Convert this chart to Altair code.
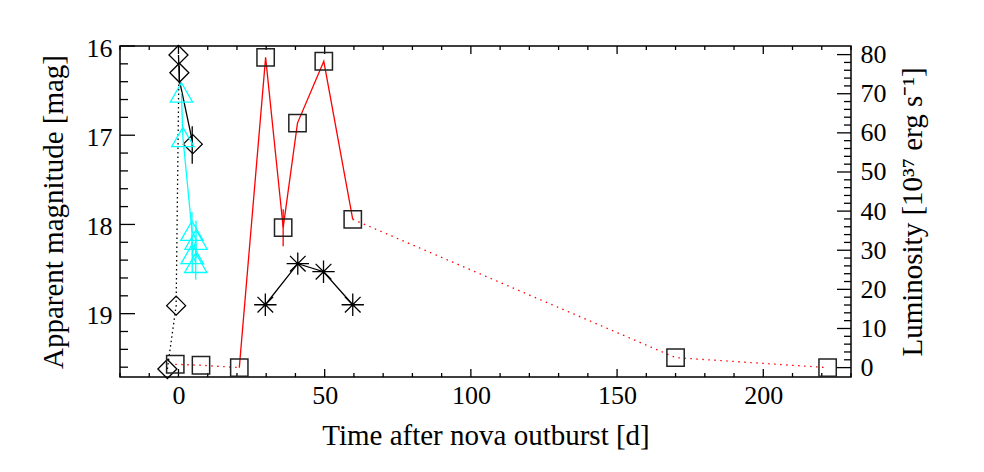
import altair as alt
import pandas as pd

# ---------------- data ----------------
# black diamonds: apparent magnitude
dia_day = [-3.8, -0.8, 0.0, 0.3, 4.9]
dia_mag = [19.62, 18.91, 16.10, 16.30, 17.10]
# black solid line through early diamonds
bl_day = [0.0, 0.3, 4.7]
bl_mag = [16.10, 16.38, 17.06]
# black dotted line
bd_day = [-3.8, -0.8, 0.1]
bd_mag = [19.62, 18.91, 16.41]
# black error bars
be_day = [0.3, 4.7]
be_lo = [16.22, 16.90]
be_hi = [16.42, 17.32]

# cyan triangles: apparent magnitude
tri_day = [1.0, 1.5, 4.6, 6.0, 4.7, 5.9]
tri_mag = [16.52, 17.02, 18.07, 18.17, 18.33, 18.43]
# cyan error bars
ce_day = [4.6, 6.0, 4.7, 5.9]
ce_lo = [17.86, 17.96, 18.12, 18.22]
ce_hi = [18.28, 18.38, 18.54, 18.62]

# black asterisks: apparent magnitude
ast_day = [29.7, 40.8, 49.6, 59.6]
ast_mag = [18.90, 18.44, 18.53, 18.90]

# squares: luminosity [1e37 erg/s]
sq_day = [-1.1, 7.7, 20.8, 29.8, 35.8, 40.7, 49.7, 59.6, 170.0, 222.0]
sq_lum = [0.85, 0.6, 0.0, 79.3, 35.8, 62.5, 78.3, 37.9, 2.55, 0.0]
solid_idx = [2, 3, 4, 5, 6, 7]
dotted_segs = [[0, 1, 2], [7, 8, 9]]
re_day = [35.8]
re_lo = [31.0]
re_hi = [40.5]

# axis ticks
x_major = [0, 50, 100, 150, 200]
x_minor = [v for v in range(-20, 231, 10) if v % 50 != 0]
mag_major = [16, 17, 18, 19]
mag_minor = [round(16 + 0.2 * i, 1) for i in range(1, 19) if i % 5 != 0]
lum_major = list(range(0, 81, 10))
lum_minor = [v for v in range(2, 81, 2) if v % 10 != 0]

# ---------------- layout / style ----------------
W, H = 731, 331
FONT = "Liberation Serif"
LFS = 26
TFS = 29

xs = alt.Scale(domain=[-20, 230], nice=False, zero=False)
ms = alt.Scale(domain=[16, 19.71], reverse=True, nice=False, zero=False)
ls = alt.Scale(domain=[-2.4, 82.2], nice=False, zero=False)

x_axis = alt.Axis(values=x_major, ticks=False, domain=False, grid=False,
                  labelFont=FONT, labelFontSize=LFS, labelColor="black", labelPadding=5,
                  titleFont=FONT, titleFontSize=TFS, titleFontWeight="normal",
                  titleColor="black", titlePadding=13, labelFlush=False)
m_axis = alt.Axis(values=mag_major, orient="left", ticks=False, domain=False, grid=False,
                  labelFont=FONT, labelFontSize=LFS, labelColor="black", labelPadding=8,
                  labelOffset=2,
                  titleFont=FONT, titleFontSize=TFS, titleFontWeight="normal",
                  titleColor="black", titlePadding=18, labelFlush=False, format="d")
l_axis = alt.Axis(values=lum_major, orient="right", ticks=False, domain=False, grid=False,
                  labelFont=FONT, labelFontSize=LFS, labelColor="black", labelPadding=9,
                  labelAlign="left",
                  titleFont=FONT, titleFontSize=TFS, titleFontWeight="normal",
                  titleColor="black", titlePadding=12, titleAngle=270,
                  titleBaseline="top", labelFlush=False, format="d")

XT = "Time after nova outburst [d]"
MT = "Apparent magnitude [mag]"
LT = "Luminosity [10³⁷ erg s⁻¹]"


def X(f):
    return alt.X(f, type="quantitative", scale=xs, axis=x_axis, title=XT)


def YM(f):
    return alt.Y(f, type="quantitative", scale=ms, axis=m_axis, title=MT)


def YL(f):
    return alt.Y(f, type="quantitative", scale=ls, axis=l_axis, title=LT)


dia = pd.DataFrame({"d": dia_day, "m": dia_mag})
bl = pd.DataFrame({"d": bl_day, "m": bl_mag})
bd = pd.DataFrame({"d": bd_day, "m": bd_mag})
be = pd.DataFrame({"d": be_day, "lo": be_lo, "hi": be_hi})
tri = pd.DataFrame({"d": tri_day, "m": tri_mag, "i": list(range(len(tri_day)))})
ce = pd.DataFrame({"d": ce_day, "lo": ce_lo, "hi": ce_hi})
ast = pd.DataFrame({"d": ast_day, "m": ast_mag})
sq = pd.DataFrame({"d": sq_day, "l": sq_lum})
rs = pd.DataFrame({"d": [sq_day[i] for i in solid_idx], "l": [sq_lum[i] for i in solid_idx]})
rd_rows = []
for s, seg in enumerate(dotted_segs):
    for i in seg:
        rd_rows.append({"d": sq_day[i], "l": sq_lum[i], "seg": s})
rd = pd.DataFrame(rd_rows)
re = pd.DataFrame({"d": re_day, "lo": re_lo, "hi": re_hi})

ASTERISK = "M0,-1L0,1M-1,0L1,0M-0.7,-0.7L0.7,0.7M-0.7,0.7L0.7,-0.7"

# ---- magnitude group ----
l_bd = alt.Chart(bd).mark_line(color="black", strokeWidth=1.3, strokeDash=[1.5, 3]).encode(x=X("d"), y=YM("m"))
l_bl = alt.Chart(bl).mark_line(color="black", strokeWidth=1.3).encode(x=X("d"), y=YM("m"))
l_be = alt.Chart(be).mark_rule(color="black", strokeWidth=1.3).encode(x=X("d"), y=YM("lo"), y2="hi")
l_dia = alt.Chart(dia).mark_point(shape="diamond", size=360, filled=False, color="black",
                                  strokeWidth=1.3, opacity=1).encode(x=X("d"), y=YM("m"))
l_cl = alt.Chart(tri).mark_line(color="#00FFFF", strokeWidth=1.3).encode(x=X("d"), y=YM("m"), order="i:Q")
l_ce = alt.Chart(ce).mark_rule(color="#00FFFF", strokeWidth=1.3).encode(x=X("d"), y=YM("lo"), y2="hi")
l_tri = alt.Chart(tri).mark_point(shape="triangle-up", size=500, filled=False, color="#00FFFF",
                                  strokeWidth=1.3, opacity=1).encode(x=X("d"), y=YM("m"))
l_al = alt.Chart(ast).mark_line(color="black", strokeWidth=1.3).encode(x=X("d"), y=YM("m"))
l_ast = alt.Chart(ast).mark_point(shape=ASTERISK, size=500, filled=False, color="black",
                                  strokeWidth=1.3, opacity=1).encode(x=X("d"), y=YM("m"))

mt_major = alt.Chart(pd.DataFrame({"v": mag_major})).mark_rule(color="black", strokeWidth=1.3).encode(
    y=YM("v"), x=alt.value(0), x2=alt.value(15))
mt_minor = alt.Chart(pd.DataFrame({"v": mag_minor})).mark_rule(color="black", strokeWidth=1.3).encode(
    y=YM("v"), x=alt.value(0), x2=alt.value(8))

mag_group = alt.layer(mt_major, mt_minor, l_bd, l_bl, l_be, l_dia, l_cl, l_ce, l_tri, l_al, l_ast)

# ---- luminosity group ----
r_dot = alt.Chart(rd).mark_line(color="#FF0000", strokeWidth=1.3, strokeDash=[1.5, 4.5]).encode(
    x=X("d"), y=YL("l"), detail="seg:N")
r_sol = alt.Chart(rs).mark_line(color="#FF0000", strokeWidth=1.3).encode(x=X("d"), y=YL("l"))
r_err = alt.Chart(re).mark_rule(color="#FF0000", strokeWidth=1.3).encode(x=X("d"), y=YL("lo"), y2="hi")
r_sq = alt.Chart(sq).mark_point(shape="square", size=300, filled=False, color="#222222",
                                strokeWidth=1.5, opacity=1).encode(x=X("d"), y=YL("l"))

lt_major = alt.Chart(pd.DataFrame({"v": lum_major})).mark_rule(color="black", strokeWidth=1.3).encode(
    y=YL("v"), x=alt.value(W), x2=alt.value(W - 14))
lt_minor = alt.Chart(pd.DataFrame({"v": lum_minor})).mark_rule(color="black", strokeWidth=1.3).encode(
    y=YL("v"), x=alt.value(W), x2=alt.value(W - 7))

xt_top_major = alt.Chart(pd.DataFrame({"v": x_major})).mark_rule(color="black", strokeWidth=1.3).encode(
    x=X("v"), y=alt.value(0), y2=alt.value(8))
xt_top_minor = alt.Chart(pd.DataFrame({"v": x_minor})).mark_rule(color="black", strokeWidth=1.3).encode(
    x=X("v"), y=alt.value(0), y2=alt.value(4))
xt_bot_major = alt.Chart(pd.DataFrame({"v": x_major})).mark_rule(color="black", strokeWidth=1.3).encode(
    x=X("v"), y=alt.value(H), y2=alt.value(H - 8))
xt_bot_minor = alt.Chart(pd.DataFrame({"v": x_minor})).mark_rule(color="black", strokeWidth=1.3).encode(
    x=X("v"), y=alt.value(H), y2=alt.value(H - 4))

lum_group = alt.layer(lt_major, lt_minor, xt_top_major, xt_top_minor, xt_bot_major, xt_bot_minor,
                      r_dot, r_sol, r_err, r_sq)

chart = alt.layer(mag_group, lum_group).resolve_scale(y="independent").properties(
    width=W, height=H,
    autosize=alt.AutoSizeParams(type="none"),
    padding={"left": 112, "top": 38, "right": 120, "bottom": 80},
    background="white",
).configure_view(stroke="black", strokeWidth=1.5).configure_axis(grid=False)

chart.save("out.html", embed_options={"renderer": "svg", "actions": False})
